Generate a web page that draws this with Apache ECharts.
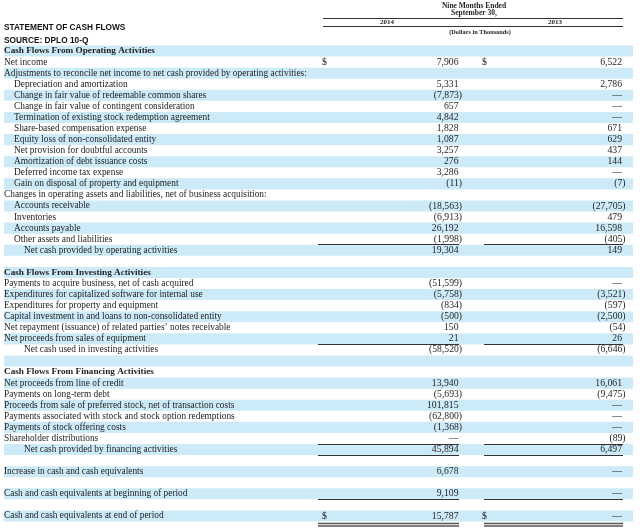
<!DOCTYPE html>
<html><head><meta charset="utf-8">
<script src="https://cdn.jsdelivr.net/npm/echarts@6/dist/echarts.min.js"></script>
<style>html,body{margin:0;padding:0;background:#fff}#c{width:640px;height:531px}</style>
</head><body><div id="c"></div>
<script>
// ---------- data ----------
const titleText = 'STATEMENT OF CASH FLOWS';
const sourceText = 'SOURCE: DPLO 10-Q';
const periodHeader = ['Nine Months Ended', 'September 30,'];
const years = ['2014', '2013'];
const unitNote = '(Dollars in Thousands)';

const rowLabels = [
  'Cash Flows From Operating Activities',
  'Net income',
  'Adjustments to reconcile net income to net cash provided by operating activities:',
  'Depreciation and amortization',
  'Change in fair value of redeemable common shares',
  'Change in fair value of contingent consideration',
  'Termination of existing stock redemption agreement',
  'Share-based compensation expense',
  'Equity loss of non-consolidated entity',
  'Net provision for doubtful accounts',
  'Amortization of debt issuance costs',
  'Deferred income tax expense',
  'Gain on disposal of property and equipment',
  'Changes in operating assets and liabilities, net of business acquisition:',
  'Accounts receivable',
  'Inventories',
  'Accounts payable',
  'Other assets and liabilities',
  'Net cash provided by operating activities',
  '',
  'Cash Flows From Investing Activities',
  'Payments to acquire business, net of cash acquired',
  'Expenditures for capitalized software for internal use',
  'Expenditures for property and equipment',
  'Capital investment in and loans to non-consolidated entity',
  'Net repayment (issuance) of related parties\u2019 notes receivable',
  'Net proceeds from sales of equipment',
  'Net cash used in investing activities',
  '',
  'Cash Flows From Financing Activities',
  'Net proceeds from line of credit',
  'Payments on long-term debt',
  'Proceeds from sale of preferred stock, net of transaction costs',
  'Payments associated with stock and stock option redemptions',
  'Payments of stock offering costs',
  'Shareholder distributions',
  'Net cash provided by financing activities',
  '',
  'Increase in cash and cash equivalents',
  '',
  'Cash and cash equivalents at beginning of period',
  '',
  'Cash and cash equivalents at end of period'
];

// row kind: section heading, item, detail (indented), total (double indented), blank
const rowKind = [
  'section','item','item',
  'detail','detail','detail','detail','detail','detail','detail','detail','detail','detail',
  'item','detail','detail','detail','detail','total','blank',
  'section','item','item','item','item','item','item','total','blank',
  'section','item','item','item','item','item','item','total','blank',
  'item','blank','item','blank','item'
];

// null = empty cell, 0 = dash, negative = parentheses
const values2014 = [null, 7906, null, 5331, -7873, 657, 4842, 1828, 1087, 3257, 276, 3286, -11,
  null, -18563, -6913, 26192, -1998, 19304, null,
  null, -51599, -5758, -834, -500, 150, 21, -58520, null,
  null, 13940, -5693, 101815, -62800, -1368, 0, 45894, null,
  6678, null, 9109, null, 15787];
const values2013 = [null, 6522, null, 2786, 0, 0, 0, 671, 629, 437, 144, 0, -7,
  null, -27705, 479, 16598, -405, 149, null,
  null, 0, -3521, -597, -2500, -54, 26, -6646, null,
  null, 16061, -9475, 0, 0, 0, -89, 6497, null,
  0, null, 0, null, 0];

const dollarRows = ['Net income', 'Cash and cash equivalents at end of period'];
// underline rules: subtotal above, total above+below, underline below, double underline
const ruleAbove = ['Net cash provided by operating activities', 'Net cash used in investing activities', 'Net cash provided by financing activities'];
const ruleBelow = ['Net cash provided by financing activities', 'Cash and cash equivalents at beginning of period'];
const ruleDouble = ['Cash and cash equivalents at end of period'];

// ---------- layout / style ----------
const L = {
  bandL: 4, bandR: 633,
  indent: { section: 4, item: 4, detail: 14, total: 24 },
  dollar: [322, 482],
  num: [458.5, 622],
  paren: 3.6,
  rule: [[318, 459], [484, 623]]
};
const C = { band: '#cdeaf9', text: '#1e1e1e', rule: '#333' };
const serif = '"Liberation Serif", "Times New Roman", serif';
const labelFont = '9.35px ' + serif;
const boldFont = 'bold 9.2px ' + serif;
const numFont = '9.7px ' + serif;

function fmt(v) {
  if (v === null || v === undefined) return '';
  if (v === 0) return '\u2014';
  const s = Math.abs(v).toLocaleString('en-US');
  return v < 0 ? '(' + s + ')' : s;
}

function txt(x, y, text, font, align) {
  return { type: 'text', x: x, y: y, silent: true,
    style: { text: text, font: font, fill: C.text, align: align, textAlign: align,
             verticalAlign: 'middle', textVerticalAlign: 'middle' } };
}
function hline(x1, x2, y, w, color) {
  return { type: 'line', silent: true, shape: { x1: x1, y1: y, x2: x2, y2: y },
    style: { stroke: color || C.rule, lineWidth: w || 1 } };
}

function renderItem(params, api) {
  const i = api.value(1);
  const h = api.size([0, 1])[1];
  const yc = api.coord([0, i])[1];
  const top = yc - h / 2, bot = yc + h / 2;
  const X = v => api.coord([v, i])[0];
  const label = rowLabels[i];
  const kind = rowKind[i];
  const ch = [];
  if (i % 2 === 0) {
    ch.push({ type: 'rect', silent: true,
      shape: { x: X(L.bandL), y: top, width: X(L.bandR) - X(L.bandL), height: h },
      style: { fill: C.band } });
  }
  if (kind !== 'blank') {
    ch.push(txt(X(L.indent[kind]), yc, label, kind === 'section' ? boldFont : labelFont, 'left'));
  }
  const vals = [values2014[i], values2013[i]];
  vals.forEach((v, k) => {
    if (v === null) return;
    ch.push(txt(X(L.num[k] + (v < 0 ? L.paren : 0)), yc, fmt(v), numFont, 'right'));
    if (dollarRows.indexOf(label) >= 0) ch.push(txt(X(L.dollar[k]), yc, '$', numFont, 'left'));
  });
  L.rule.forEach(r => {
    if (ruleAbove.indexOf(label) >= 0) ch.push(hline(X(r[0]), X(r[1]), Math.round(top - 0.5) + 0.5));
    if (ruleBelow.indexOf(label) >= 0) ch.push(hline(X(r[0]), X(r[1]), Math.round(bot) + 0.5));
    if (ruleDouble.indexOf(label) >= 0) {
      ch.push(hline(X(r[0]), X(r[1]), Math.round(bot) + 1.5, 1.3, '#555'));
      ch.push(hline(X(r[0]), X(r[1]), Math.round(bot) + 4, 1.3, '#555'));
    }
  });
  return { type: 'group', children: ch };
}

const headFont = 'bold 7.5px ' + serif;
function headText(x, y, text, font) {
  return { type: 'text', x: x, y: y, silent: true,
    style: { text: text, font: font, fill: C.text, align: 'center', textAlign: 'center',
             verticalAlign: 'middle', textVerticalAlign: 'middle' } };
}
const chart = echarts.init(document.getElementById('c'), null, { renderer: 'canvas' });
chart.setOption({
  animation: false,
  backgroundColor: '#fff',
  title: {
    left: 4, top: 21, padding: 0,
    text: titleText + '\n' + sourceText,
    textStyle: { fontFamily: '"Liberation Sans", Arial, sans-serif', fontWeight: 'bold',
                 fontSize: 8.3, lineHeight: 13, color: '#111' }
  },
  graphic: [
    headText(474, 6.5, periodHeader[0], headFont),
    headText(474, 13.5, periodHeader[1], headFont),
    { type: 'line', silent: true, shape: { x1: 323, y1: 18.5, x2: 623, y2: 18.5 }, style: { stroke: '#333', lineWidth: 1 } },
    headText(387, 22.5, years[0], 'bold 7px ' + serif),
    headText(555, 22.5, years[1], 'bold 7px ' + serif),
    { type: 'line', silent: true, shape: { x1: 323, y1: 26.5, x2: 623, y2: 26.5 }, style: { stroke: '#333', lineWidth: 1 } },
    headText(480, 32.5, unitNote, 'bold 6.3px ' + serif)
  ],
  grid: { left: 0, right: 0, top: 45.5, bottom: 9.5 },
  xAxis: { type: 'value', min: 0, max: 640, show: false },
  yAxis: { type: 'category', inverse: true, show: false,
           data: rowLabels.map((_, i) => String(i)) },
  series: [{
    type: 'custom',
    renderItem: renderItem,
    encode: { x: 0, y: 1 },
    clip: false,
    data: rowLabels.map((_, i) => [0, i])
  }]
});
</script></body></html>
